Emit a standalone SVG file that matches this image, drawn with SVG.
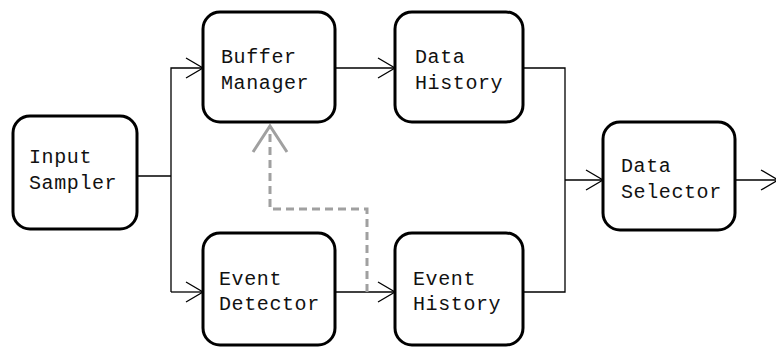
<svg xmlns="http://www.w3.org/2000/svg" width="776" height="347" viewBox="0 0 776 347">
<style>
.box{fill:#fff;stroke:#000;stroke-width:3}
.lbl{font-family:"Liberation Mono","DejaVu Sans Mono",monospace;font-size:20px;fill:#111;letter-spacing:0.6px}
.ln{fill:none;stroke:#000;stroke-width:1.3}
.dash{fill:none;stroke:#a0a0a0;stroke-width:3;stroke-dasharray:8 5}
</style>
<defs>
<marker id="arr" markerUnits="userSpaceOnUse" markerWidth="20" markerHeight="24" refX="18" refY="11" orient="auto" overflow="visible">
<path d="M1 1 L18 11 L1 21" fill="none" stroke="#000" stroke-width="1.3"/>
</marker>
<marker id="garr" markerUnits="userSpaceOnUse" markerWidth="40" markerHeight="40" refX="28" refY="18" orient="auto" overflow="visible">
<path d="M2 1 L28 18 L2 35" fill="none" stroke="#a0a0a0" stroke-width="3"/>
</marker>
</defs>
<rect width="776" height="347" fill="#fff"/>
<g id="connectors">
<path class="ln" d="M137 176 H171"/>
<path class="ln" d="M171 292 V68 H203" marker-end="url(#arr)"/>
<path class="ln" d="M171 292 H203" marker-end="url(#arr)"/>
<path class="ln" d="M335 68 H395" marker-end="url(#arr)"/>
<path class="ln" d="M335 292 H395" marker-end="url(#arr)"/>
<path class="ln" d="M523 68 H565 V292 H523"/>
<path class="ln" d="M565 180 H603" marker-end="url(#arr)"/>
<path class="ln" d="M735 180 H778" marker-end="url(#arr)"/>
<path class="dash" d="M367 292 V209 H270 V126" marker-end="url(#garr)"/>
</g>
<g id="input-sampler">
<rect class="box" x="13" y="116" width="124" height="113" rx="17"/>
<text class="lbl" x="29" y="163">Input</text>
<text class="lbl" x="29" y="189">Sampler</text>
</g>
<g id="buffer-manager">
<rect class="box" x="203" y="12" width="132" height="110" rx="17"/>
<text class="lbl" x="221" y="63">Buffer</text>
<text class="lbl" x="221" y="89">Manager</text>
</g>
<g id="event-detector">
<rect class="box" x="203" y="233" width="132" height="112" rx="17"/>
<text class="lbl" x="219" y="285">Event</text>
<text class="lbl" x="219" y="310">Detector</text>
</g>
<g id="data-history">
<rect class="box" x="395" y="12" width="128" height="110" rx="17"/>
<text class="lbl" x="415" y="63">Data</text>
<text class="lbl" x="415" y="89">History</text>
</g>
<g id="event-history">
<rect class="box" x="395" y="233" width="128" height="112" rx="17"/>
<text class="lbl" x="413" y="285">Event</text>
<text class="lbl" x="413" y="310">History</text>
</g>
<g id="data-selector">
<rect class="box" x="603" y="122" width="132" height="108" rx="17"/>
<text class="lbl" x="621" y="172">Data</text>
<text class="lbl" x="621" y="198">Selector</text>
</g>
</svg>
